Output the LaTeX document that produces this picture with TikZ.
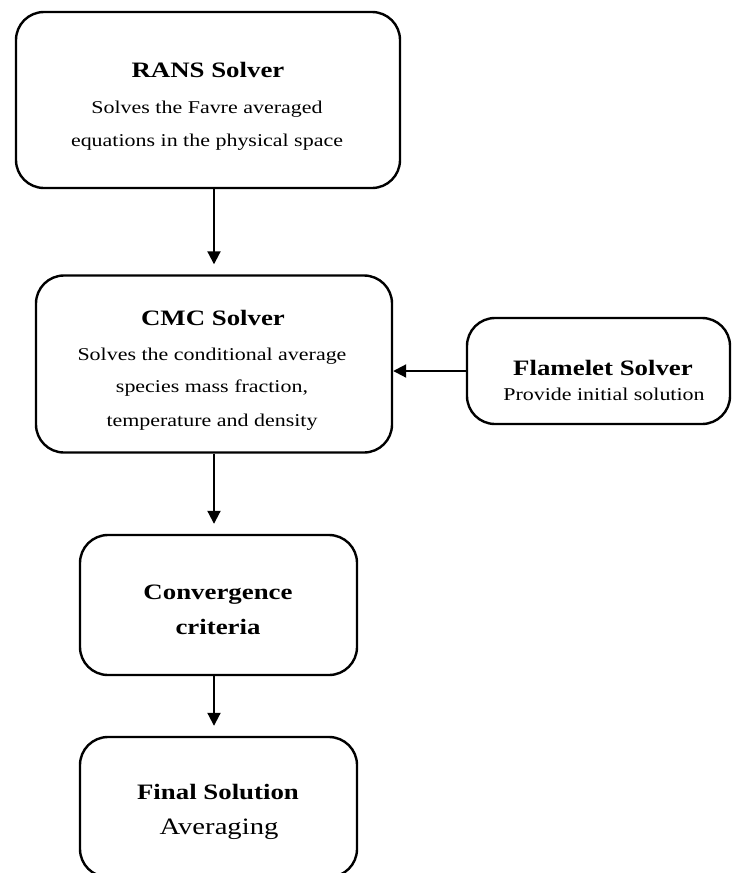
\documentclass[tikz,border=0pt]{standalone}
\usepackage{fontspec}
\setmainfont{Liberation Serif}[FakeStretch=1.22]
\usetikzlibrary{arrows.meta,calc}
\begin{document}
\begin{tikzpicture}[x=1pt,y=-1pt,
  box/.style={draw=black,line width=2.4pt,rounded corners=28pt,inner sep=0pt},
  ttl/.style={anchor=base,inner sep=0pt,font=\fontsize{22}{22}\selectfont\bfseries},
  txt/.style={anchor=base,inner sep=0pt,font=\fontsize{18}{18}\selectfont},
  big/.style={anchor=base,inner sep=0pt,font=\fontsize{23.5}{23.5}\selectfont},
  arr/.style={line width=2pt,-{Triangle[length=13pt,width=13pt]}}]
\useasboundingbox (0,0) rectangle (732,873);
\clip (0,0) rectangle (732,873);
% boxes
\node[box,minimum width=384pt,minimum height=176pt] (rans) at (208,100) {};
\node[box,minimum width=356pt,minimum height=177pt] (cmc) at (214,364) {};
\node[box,minimum width=263pt,minimum height=106pt] (flam) at (598.5,371) {};
\node[box,minimum width=277pt,minimum height=140pt] (conv) at (218.5,605) {};
\node[box,minimum width=277pt,minimum height=140pt] (fin) at (218.5,807) {};
% texts
\node[ttl] (t1) at (208,77) {RANS Solver};
\node[txt] (t1a) at (207,113) {Solves the Favre averaged};
\node[txt] (t1b) at (207,146) {equations in the physical space};
\node[ttl] (t2) at (213,325) {CMC Solver};
\node[txt] (t2a) at (212,360) {Solves the conditional average};
\node[txt] (t2b) at (212,392) {species mass fraction,};
\node[txt] (t2c) at (212,426) {temperature and density};
\node[ttl] (t3) at (603,375) {Flamelet Solver};
\node[txt] (t3a) at (604,400) {Provide initial solution};
\node[ttl] (t4) at (218,599) {Convergence};
\node[ttl] (t4a) at (218,634) {criteria};
\node[ttl] (t5) at (218,799) {Final Solution};
\node[big] (t5a) at (219,834) {Averaging};
% connectors
\draw[arr,shorten >=10pt] (rans.south -| cmc.north) -- (cmc.north);
\draw[arr,shorten >=10pt] (cmc.south) -- (cmc.south |- conv.north);
\draw[arr,shorten >=10pt] (conv.south -| cmc.south) -- (cmc.south |- fin.north);
\draw[arr] (flam.west) -- (flam.west -| cmc.east);
\end{tikzpicture}
\end{document}
